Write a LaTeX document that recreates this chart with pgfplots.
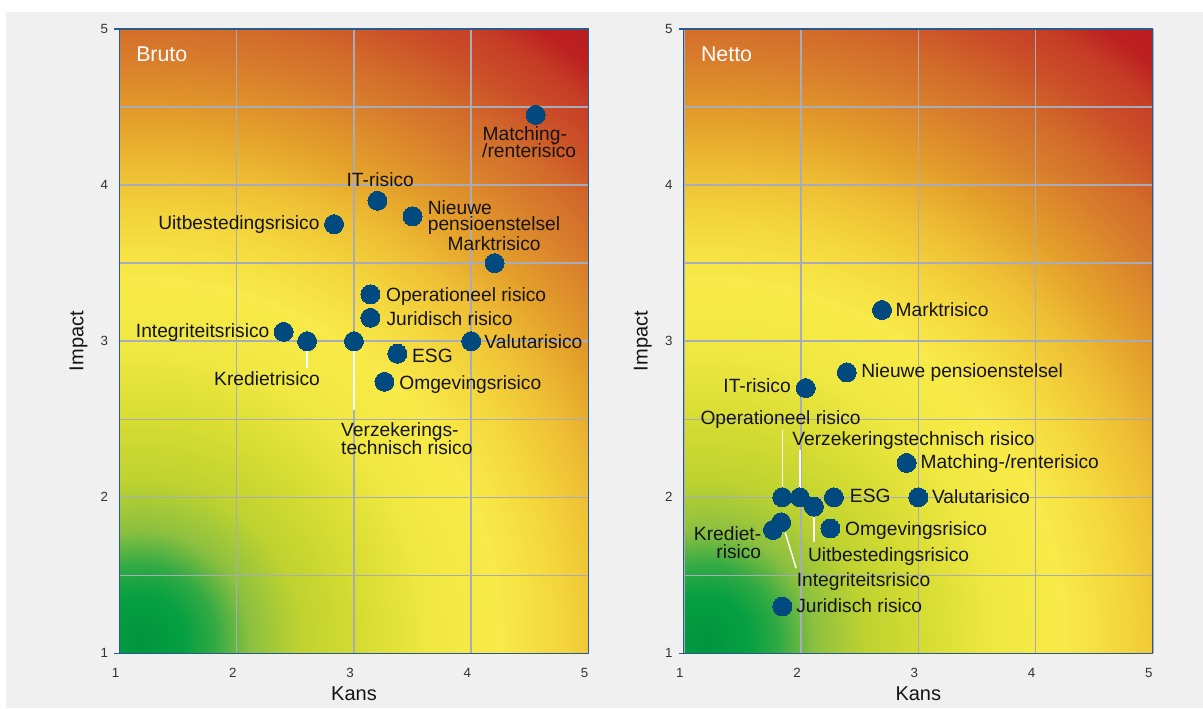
\documentclass[border=0pt]{standalone}
\usepackage{pgfplots}
\pgfplotsset{compat=1.18}
\usepackage{fontspec}
\setmainfont{Liberation Sans}

\definecolor{pagegray}{RGB}{240,240,240}
\definecolor{gridgray}{RGB}{168,172,184}
\definecolor{frameblue}{RGB}{40,90,140}
\definecolor{dotblue}{RGB}{0,74,128}
\definecolor{labeltext}{RGB}{20,20,20}
\definecolor{ticktext}{RGB}{50,50,50}

% heat scale, from low risk (green) to high risk (red)
\definecolor{h00}{RGB}{0,148,62}
\definecolor{h01}{RGB}{6,160,66}
\definecolor{h02}{RGB}{50,170,68}
\definecolor{h03}{RGB}{140,192,64}
\definecolor{h04}{RGB}{190,210,48}
\definecolor{h05}{RGB}{214,220,50}
\definecolor{h06}{RGB}{240,232,66}
\definecolor{h07}{RGB}{248,234,72}
\definecolor{h08}{RGB}{244,214,60}
\definecolor{h09}{RGB}{238,190,52}
\definecolor{h10}{RGB}{228,160,42}
\definecolor{h11}{RGB}{216,126,44}
\definecolor{h12}{RGB}{210,106,42}
\definecolor{h13}{RGB}{203,80,40}
\definecolor{h14}{RGB}{198,60,38}
\definecolor{h15}{RGB}{188,32,32}
\definecolor{h16}{RGB}{186,28,32}

\pgfdeclareradialshading{heat}{\pgfpoint{0pt}{0pt}}{%
  color(0pt)=(h00); color(33.75pt)=(h01); color(56.25pt)=(h02);
  color(82.5pt)=(h03); color(120pt)=(h04); color(165pt)=(h05);
  color(217.5pt)=(h06); color(270pt)=(h07); color(315pt)=(h08);
  color(352.5pt)=(h09); color(390pt)=(h10); color(435pt)=(h11);
  color(465pt)=(h12); color(495pt)=(h13); color(525pt)=(h14);
  color(547.5pt)=(h15); color(570pt)=(h16); color(615pt)=(h16)}

\pgfplotsset{
  riskaxis/.style={
    scale only axis, width=351.75pt, height=468.2pt, anchor=south west,
    xmin=1, xmax=5, ymin=1, ymax=5,
    xtick={1,2,3,4,5}, ytick={1,2,3,4,5},
    minor ytick={1.5,2.5,3.5,4.5},
    grid=both,
    major grid style={draw=gridgray, line width=1.1pt},
    minor grid style={draw=gridgray, line width=1.1pt},
    axis line style={draw=frameblue, line width=0.9pt},
    major tick length=0pt, minor tick length=0pt,
    tick label style={font=\fontsize{10}{12}\selectfont, text=ticktext},
    /pgf/number format/assume math mode=true,
    xticklabel style={xshift=-3pt, yshift=-7.5pt},
    yticklabel style={xshift=-5pt},
    xlabel={Kans}, ylabel={Impact},
    label style={font=\fontsize{15}{18}\selectfont, text=labeltext},
    xlabel style={at={(axis description cs:0.5,-0.0647)}, anchor=center},
    ylabel style={at={(axis description cs:-0.0874,0.5)}, anchor=center},
    clip=false,
  },
  leader/.style={draw=white, line width=1.1pt, mark=none},
  dots/.style={only marks, mark=*, mark size=7.1pt,
    mark options={fill=dotblue, draw=dotblue, line width=0pt}},
}
\tikzset{
  lbl/.style={inner sep=0pt, text=labeltext, font=\fontsize{14.4}{17}\selectfont},
  paneltitle/.style={inner sep=0pt, text=white, font=\fontsize{16}{19}\selectfont, anchor=base west},
  stub/.style={draw=frameblue, line width=0.9pt},
}

\begin{document}
\begin{tikzpicture}
\path[use as bounding box] (0,0) rectangle (902.25pt,531pt);
\fill[white] (0,0) rectangle (902.25pt,531pt);
\fill[pagegray] (4.5pt,0) rectangle (902.25pt,522pt);

% heat map backgrounds behind both panels
\begin{scope}
  \clip (89.6pt,41pt) rectangle +(351.75pt,468.2pt);
  \node[inner sep=0pt] at (105pt,51pt) {\pgfuseshading{heat}};
\end{scope}
\begin{scope}
  \clip (512.85pt,41pt) rectangle +(351.75pt,468.2pt);
  \node[inner sep=0pt] at (528.25pt,51pt) {\pgfuseshading{heat}};
\end{scope}

% ---------------- Bruto ----------------
\begin{axis}[riskaxis, at={(89.6pt,41pt)}]
\draw[stub] (rel axis cs:0,0) -- ([xshift=-3.75pt]rel axis cs:0,0);
\draw[stub] (rel axis cs:0,1) -- ([xshift=-3.75pt]rel axis cs:0,1);
\addplot[leader] coordinates {(2.6,3.0) (2.6,2.83)};
\addplot[leader] coordinates {(3.0,3.0) (3.0,2.56)};
\addplot[dots] coordinates {
  (4.55,4.45) (3.2,3.9) (3.5,3.8) (2.83,3.75) (4.2,3.5)
  (3.14,3.3) (3.14,3.15) (2.4,3.06) (2.6,3.0) (3.0,3.0)
  (3.37,2.92) (4.0,3.0) (3.26,2.74)};
\node[paneltitle] at (rel axis cs:0,1) [xshift=12.4pt, yshift=-24pt] {Bruto};
\node[lbl, anchor=base west, xshift=-40pt, yshift=-19.3pt] at (axis cs:4.55,4.45) {Matching-};
\node[lbl, anchor=base west, xshift=-40.3pt, yshift=-31.6pt] at (axis cs:4.55,4.45) {/renterisico};
\node[lbl, anchor=base, xshift=2.1pt, yshift=10.5pt] at (axis cs:3.2,3.9) {IT-risico};
\node[lbl, anchor=base west, xshift=11.25pt, yshift=1.3pt] at (axis cs:3.5,3.8) {Nieuwe};
\node[lbl, anchor=base west, xshift=11.25pt, yshift=-10.9pt] at (axis cs:3.5,3.8) {pensioenstelsel};
\node[lbl, anchor=base east, xshift=-10.7pt, yshift=-3.75pt] at (axis cs:2.83,3.75) {Uitbestedingsrisico};
\node[lbl, anchor=base, xshift=-0.4pt, yshift=9.6pt] at (axis cs:4.2,3.5) {Marktrisico};
\node[lbl, anchor=base west, xshift=11.6pt, yshift=-5pt] at (axis cs:3.14,3.3) {Operationeel risico};
\node[lbl, anchor=base west, xshift=12pt, yshift=-5.6pt] at (axis cs:3.14,3.15) {Juridisch risico};
\node[lbl, anchor=base east, xshift=-10.5pt, yshift=-4pt] at (axis cs:2.4,3.06) {Integriteitsrisico};
\node[lbl, anchor=base, xshift=-30pt, yshift=-33.5pt] at (axis cs:2.6,3.0) {Kredietrisico};
\node[lbl, anchor=base west, xshift=-9.75pt, yshift=-71.25pt] at (axis cs:3.0,3.0) {Verzekerings-};
\node[lbl, anchor=base west, xshift=-9.75pt, yshift=-84.6pt] at (axis cs:3.0,3.0) {technisch risico};
\node[lbl, anchor=base west, xshift=10.9pt, yshift=-6.3pt] at (axis cs:3.37,2.92) {ESG};
\node[lbl, anchor=base west, xshift=9.75pt, yshift=-5.5pt] at (axis cs:4.0,3.0) {Valutarisico};
\node[lbl, anchor=base west, xshift=11pt, yshift=-5.8pt] at (axis cs:3.26,2.74) {Omgevingsrisico};
\end{axis}

% ---------------- Netto ----------------
\begin{axis}[riskaxis, at={(512.85pt,41pt)}]
\draw[stub] (rel axis cs:0,0) -- ([xshift=-3.75pt]rel axis cs:0,0);
\draw[stub] (rel axis cs:0,1) -- ([xshift=-3.75pt]rel axis cs:0,1);
\addplot[leader] coordinates {(1.84,2.0) (1.84,2.43)};
\addplot[leader] coordinates {(1.99,2.0) (1.99,2.30)};
\addplot[leader] coordinates {(2.11,1.94) (2.11,1.715)};
\addplot[leader] coordinates {(1.865,1.774) (1.958,1.545)};
\addplot[dots] coordinates {
  (2.69,3.2) (2.39,2.8) (2.04,2.7) (2.9,2.22)
  (1.84,2.0) (1.99,2.0) (2.11,1.94) (2.28,2.0) (3.0,2.0)
  (2.25,1.8) (1.76,1.79) (1.83,1.84) (1.84,1.3)};
\node[paneltitle] at (rel axis cs:0,1) [xshift=12.75pt, yshift=-24pt] {Netto};
\node[lbl, anchor=base west, xshift=10.1pt, yshift=-5pt] at (axis cs:2.69,3.2) {Marktrisico};
\node[lbl, anchor=base west, xshift=10.65pt, yshift=-3.75pt] at (axis cs:2.39,2.8) {Nieuwe pensioenstelsel};
\node[lbl, anchor=base east, xshift=-11.1pt, yshift=-3.3pt] at (axis cs:2.04,2.7) {IT-risico};
\node[lbl, anchor=base west, xshift=10.4pt, yshift=-4.3pt] at (axis cs:2.9,2.22) {Matching-/renterisico};
\node[lbl, anchor=base, xshift=-1.3pt, yshift=54.5pt] at (axis cs:1.84,2.0) {Operationeel risico};
\node[lbl, anchor=base west, xshift=-5.8pt, yshift=38.8pt] at (axis cs:1.99,2.0) {Verzekeringstechnisch risico};
\node[lbl, anchor=base west, xshift=11.85pt, yshift=-3.75pt] at (axis cs:2.28,2.0) {ESG};
\node[lbl, anchor=base west, xshift=10.1pt, yshift=-4.7pt] at (axis cs:3.0,2.0) {Valutarisico};
\node[lbl, anchor=base west, xshift=-4.65pt, yshift=-41pt] at (axis cs:2.11,1.94) {Uitbestedingsrisico};
\node[lbl, anchor=base west, xshift=10.95pt, yshift=-5.55pt] at (axis cs:2.25,1.8) {Omgevingsrisico};
\node[lbl, anchor=base east, xshift=-8.6pt, yshift=-8pt] at (axis cs:1.76,1.79) {Krediet-};
\node[lbl, anchor=base east, xshift=-8.6pt, yshift=-21pt] at (axis cs:1.76,1.79) {risico};
\node[lbl, anchor=base west, xshift=11.6pt, yshift=-48.5pt] at (axis cs:1.83,1.84) {Integriteitsrisico};
\node[lbl, anchor=base west, xshift=10.3pt, yshift=-4.5pt] at (axis cs:1.84,1.3) {Juridisch risico};
\end{axis}
\end{tikzpicture}
\end{document}
